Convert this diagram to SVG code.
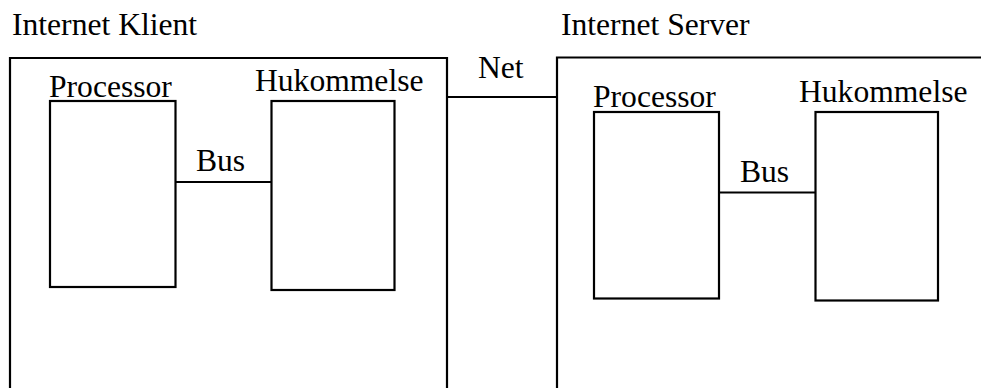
<svg xmlns="http://www.w3.org/2000/svg" width="981" height="388" viewBox="0 0 981 388">
  <style>
    .box { fill: none; stroke: #000; stroke-width: 2.2; }
    .wire { fill: none; stroke: #000; stroke-width: 2.2; }
    .lbl { font-family: "Liberation Serif", "Times New Roman", serif; font-size: 31.6px; fill: #000; }
  </style>
  <rect width="981" height="388" fill="#fff"/>

  <!-- Client machine -->
  <g id="client">
    <text class="lbl" x="12" y="35">Internet Klient</text>
    <path class="box" d="M10,400 V58 H447 V400"/>
  </g>
  <g id="client-processor">
    <text class="lbl" x="49" y="97">Processor</text>
    <rect class="box" x="50" y="101" width="125.5" height="186"/>
  </g>
  <g id="client-memory">
    <text class="lbl" x="255" y="91">Hukommelse</text>
    <rect class="box" x="271.5" y="101" width="123" height="189"/>
  </g>

  <!-- Server machine -->
  <g id="server">
    <text class="lbl" x="561" y="35">Internet Server</text>
    <path class="box" d="M557,400 V57.5 H990"/>
  </g>
  <g id="server-processor">
    <text class="lbl" x="593" y="107">Processor</text>
    <rect class="box" x="594" y="112" width="125" height="186.5"/>
  </g>
  <g id="server-memory">
    <text class="lbl" x="799" y="102">Hukommelse</text>
    <rect class="box" x="815.5" y="112" width="122.5" height="188.5"/>
  </g>

  <!-- Connections -->
  <g id="connectors">
    <line class="wire" x1="175.5" y1="182" x2="271.5" y2="182"/>
    <text class="lbl" x="196" y="171">Bus</text>
    <line class="wire" x1="447" y1="97" x2="557" y2="97"/>
    <text class="lbl" x="478" y="78">Net</text>
    <line class="wire" x1="719" y1="192.5" x2="815.5" y2="192.5"/>
    <text class="lbl" x="740" y="182">Bus</text>
  </g>
</svg>
